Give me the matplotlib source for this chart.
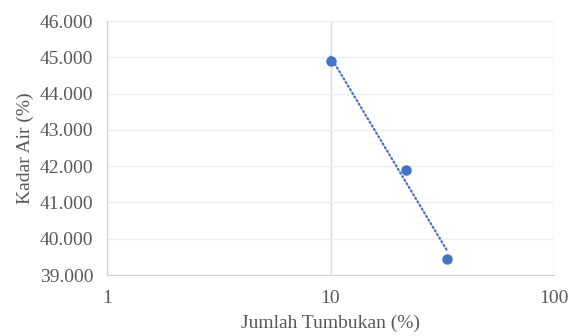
import numpy as np
import matplotlib.pyplot as plt

plt.rcParams['font.family'] = ['Liberation Serif', 'DejaVu Serif']

tumbukan = [10, 21.7, 33.3]
kadar_air = [44.9, 41.9, 39.45]
y_ticks = [39, 40, 41, 42, 43, 44, 45, 46]
x_ticks = [1, 10, 100]

blue = '#4472C4'
grey = '#595959'
grid = '#EEEEEE'

fig = plt.figure(figsize=(5.71, 3.36), dpi=100)
ax = fig.add_axes([107 / 571, 1 - 275 / 336, (554 - 107) / 571, (275 - 21) / 336])

# logarithmic trendline over the data range
a, b = np.polyfit(np.log(tumbukan), kadar_air, 1)
xt = np.array([min(tumbukan), max(tumbukan)])
ax.plot(xt, a * np.log(xt) + b, color=blue, lw=1.6, ls=(0, (0.6, 1.3)),
        dash_capstyle='round', zorder=2)
ax.plot(tumbukan, kadar_air, 'o', color=blue, ms=6.5, zorder=3)

ax.set_xscale('log')
ax.set_xlim(1, 100)
ax.set_ylim(39, 46)
ax.set_xticks(x_ticks)
ax.set_xticklabels([str(t) for t in x_ticks])
ax.xaxis.set_minor_locator(plt.NullLocator())
ax.set_yticks(y_ticks)
ax.set_yticklabels([f'{t}.000' for t in y_ticks])

ax.grid(True, axis='y', color=grid, lw=1)
ax.grid(True, axis='x', color='#D9D9D9', lw=1)
ax.set_axisbelow(True)
for s in ['top', 'right']:
    ax.spines[s].set_visible(False)
for s in ['left', 'bottom']:
    ax.spines[s].set_color('#D0D0D0')
ax.tick_params(length=0, labelsize=14, colors=grey, pad=10)
ax.tick_params(axis='x', pad=11)

ax.set_xlabel('Jumlah Tumbukan (%)', fontsize=14, color=grey, labelpad=5)
ax.set_ylabel('Kadar Air (%)', fontsize=14, color=grey, labelpad=4)

fig.savefig('out.png', dpi=100)
